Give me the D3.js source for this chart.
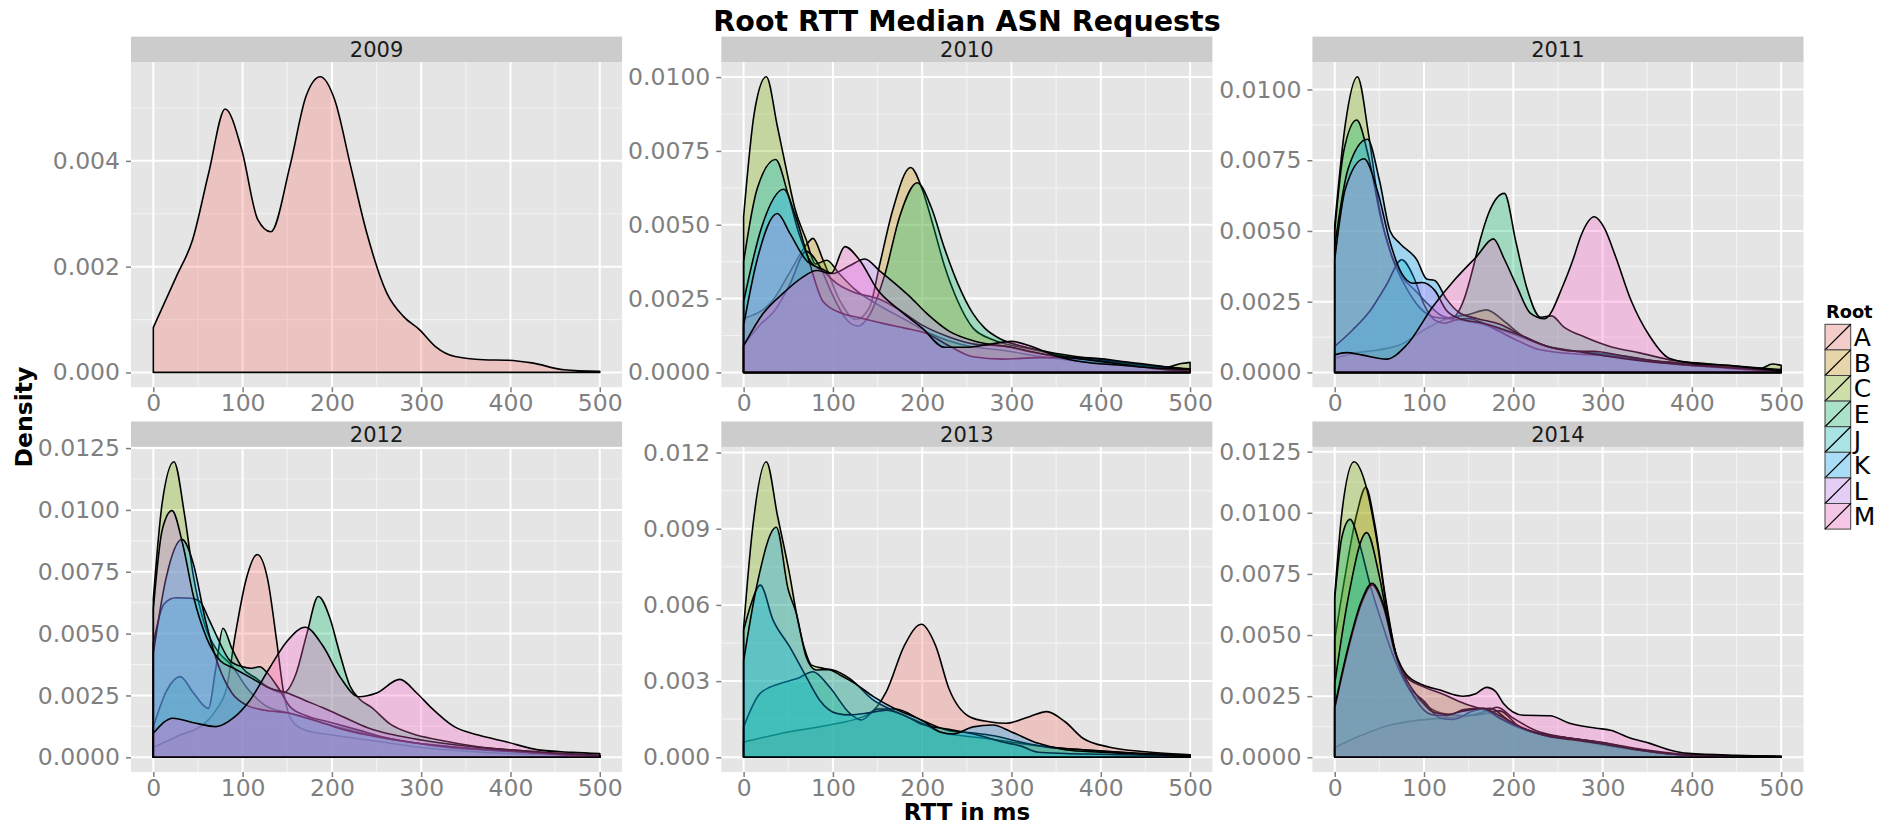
<!DOCTYPE html>
<html>
<head>
<meta charset="utf-8">
<script src="https://cdnjs.cloudflare.com/ajax/libs/d3/7.8.5/d3.min.js"></script>
<style>
  body { margin: 0; background: #fff; }
  svg { display: block; font-family: "DejaVu Sans", sans-serif; }
</style>
</head>
<body>
<div id="chart"></div>
<script>
// density values are in units of 0.001, x is RTT in ms
var unit = 0.001;
var years = ["2009", "2010", "2011", "2012", "2013", "2014"];
var roots = ["A", "B", "C", "E", "J", "K", "L", "M"];
var rootColors = ["#F8766D", "#CD9600", "#7CAE00", "#00BE67", "#00BFC4", "#00A9FF", "#C77CFF", "#FF61CC"];
var xTicks = [0, 100, 200, 300, 400, 500];
var xMinor = [50, 150, 250, 350, 450];

var yTicks09 = [0, 0.002, 0.004];
var yTicks10 = [0, 0.0025, 0.005, 0.0075, 0.01];
var yTicks11 = [0, 0.0025, 0.005, 0.0075, 0.01];
var yTicks12 = [0, 0.0025, 0.005, 0.0075, 0.01, 0.0125];
var yTicks13 = [0, 0.003, 0.006, 0.009, 0.012];
var yTicks14 = [0, 0.0025, 0.005, 0.0075, 0.01, 0.0125];

// 2009
var A09 = [[0,0.85],[26,1.82],[44,2.51],[62,3.77],[80.5,4.98],[99,4.21],[117,2.89],[131.7,2.66],[153,3.9],[171,5.22],[187,5.59],[203,5.16],[221,3.9],[239,2.64],[261.5,1.5],[280,1.06],[298,0.81],[316,0.49],[338,0.3],[370,0.24],[397,0.23],[424,0.18],[460,0.05],[500,0.02]];

// 2010
var B10 = [[0,1.83],[33,2.45],[51,3.35],[72,4.39],[77.6,4.54],[89,3.8],[107.5,2.45],[126,1.79],[141,2.2],[152,3.6],[167,5.5],[187,6.94],[200,6.2],[212,5.0],[225,3.6],[240,2.4],[257,1.5],[280,1.1],[320,0.8],[360,0.55],[400,0.4],[450,0.2],[500,0.1]];
var C10 = [[0,5.27],[12,8.8],[25.4,10.01],[38,8.3],[48,6.85],[57,5.6],[70,4.5],[80.6,3.67],[93,3.8],[107,3.35],[125,2.8],[150,2.3],[180,1.8],[210,1.3],[250,0.9],[290,0.75],[330,0.55],[370,0.4],[420,0.25],[470,0.15],[490,0.3],[500,0.34]];
var E10 = [[0,0.93],[18,1.6],[35,2.1],[52,3.0],[70,4.1],[85,3.6],[100,2.6],[115,1.8],[128,1.57],[142,2.0],[158,3.3],[175,5.3],[194.4,6.42],[210,5.6],[225,4.2],[240,3.0],[256.7,2.0],[270,1.5],[286.5,1.15],[310,0.9],[340,0.7],[380,0.5],[420,0.35],[460,0.2],[500,0.12]];
var J10 = [[0,3.75],[15,6.2],[35.8,7.21],[50,6.0],[62,4.7],[75,3.75],[90,3.4],[105,3.0],[125,2.7],[150,2.5],[170,2.2],[200,1.6],[230,1.2],[260,0.95],[290,0.9],[320,0.7],[360,0.5],[400,0.4],[450,0.25],[500,0.1]];
var K10 = [[0,2.4],[20,4.9],[45,6.2],[58,5.3],[72,3.9],[89,2.4],[110,2.0],[130,1.85],[156,1.66],[180,1.5],[205,1.32],[230,0.9],[257,0.53],[290,0.45],[330,0.5],[380,0.5],[430,0.35],[470,0.2],[500,0.1]];
var L10 = [[0,1.6],[15,3.8],[37.7,5.38],[52,4.7],[70,3.8],[88,3.5],[100,3.35],[118,3.6],[135.8,3.84],[152,3.45],[170,3.0],[185,2.6],[205,2.0],[230,1.4],[260,1.05],[300,0.85],[340,0.6],[380,0.45],[430,0.25],[470,0.1],[500,0.05]];
var M10 = [[0,0.9],[22,2.0],[45,2.7],[65,3.2],[82,3.45],[98,3.35],[113.4,4.26],[130,3.8],[150,2.8],[175,2.1],[200,1.5],[225,0.85],[250,0.85],[275,0.95],[300,1.05],[325,0.85],[350,0.55],[380,0.35],[420,0.25],[460,0.15],[500,0.1]];

// 2011
var B11 = [[0,0.5],[25,0.7],[50,0.8],[75,1.0],[100,1.5],[125,1.9],[150,2.05],[170,2.21],[190,1.8],[210,1.3],[230,1.0],[260,0.8],[290,0.7],[330,0.55],[370,0.35],[410,0.25],[450,0.15],[500,0.05]];
var C11 = [[0,5.2],[12,8.8],[25.4,10.45],[38,8.4],[50,5.8],[62,4.3],[75,3.4],[90,2.9],[105,2.4],[120,2.0],[140,1.85],[165,1.7],[200,1.35],[240,0.9],[280,0.7],[320,0.55],[360,0.4],[400,0.3],[450,0.2],[478,0.15],[490,0.3],[500,0.25]];
var E11 = [[0,5.0],[10,7.8],[24.6,8.92],[38,7.6],[52,5.4],[65,4.0],[80,3.0],[95,2.3],[112,1.95],[130,1.9],[145,2.6],[155,3.7],[163,4.7],[172,5.6],[190,6.33],[203,4.6],[215,3.0],[230.6,1.95],[243,2.0],[256,1.62],[280,1.25],[310,0.9],[340,0.7],[380,0.42],[420,0.3],[460,0.2],[500,0.1]];
var J11 = [[0,0.92],[20,1.5],[40,2.2],[58,3.1],[75,3.98],[88,3.4],[100,2.4],[112,1.85],[123,1.74],[135,1.85],[150,1.9],[175,1.6],[200,1.2],[230,0.8],[270,0.65],[300,0.6],[340,0.45],[380,0.3],[420,0.2],[460,0.1],[500,0.05]];
var K11 = [[0,4.45],[15,7.2],[36.6,8.24],[50,6.8],[62,5.0],[73,4.56],[92,3.98],[103,3.3],[112,3.25],[125,2.6],[140,2.1],[160,1.9],[185,1.7],[210,1.3],[240,0.9],[270,0.75],[290,0.75],[320,0.6],[360,0.4],[400,0.3],[450,0.15],[500,0.05]];
var L11 = [[0,3.98],[12,6.5],[32.8,7.55],[48,6.4],[62,4.6],[75,3.5],[88,3.15],[98,3.18],[112,2.9],[125,2.2],[140,1.9],[165,1.75],[200,1.4],[240,0.9],[280,0.7],[320,0.5],[360,0.35],[400,0.25],[450,0.15],[500,0.05]];
var M11 = [[0,0.62],[13,0.7],[30,0.62],[58,0.47],[80,0.95],[110,2.33],[135,3.3],[159,4.1],[177.6,4.72],[190,4.0],[204,3.04],[219,2.1],[235,1.9],[256,3.1],[267,4.0],[276,4.85],[290.7,5.5],[302,5.1],[314.6,4.09],[331.7,2.56],[353,1.27],[374.5,0.5],[400,0.33],[440,0.25],[470,0.15],[500,0.05]];

// 2012
var A12 = [[0,0.4],[30,0.9],[55,1.3],[70,1.9],[82,2.8],[92,5.0],[104,7.2],[116.4,8.2],[128,7.2],[138,4.74],[146,2.6],[155,1.5],[170,1.1],[200,0.9],[230,0.75],[260,0.6],[300,0.4],[350,0.25],[400,0.15],[450,0.1],[500,0.05]];
var C12 = [[0,6.4],[10,10.3],[23.1,11.95],[35,9.8],[45,7.3],[58,5.3],[72,4.3],[88,3.7],[105,2.8],[125,2.1],[150,1.8],[180,1.5],[210,1.2],[250,0.85],[290,0.6],[330,0.45],[370,0.3],[420,0.2],[460,0.1],[500,0.05]];
var E12 = [[0,1.24],[15,2.7],[30,3.26],[45,2.6],[61.6,1.98],[70,3.6],[78,5.22],[88,4.4],[100,3.6],[115,3.2],[130,2.8],[145,2.6],[160,3.4],[172,5.0],[184.7,6.5],[198,5.6],[208,4.3],[220,2.9],[230,2.39],[245,2.0],[265,1.35],[290,0.95],[320,0.7],[360,0.45],[400,0.3],[450,0.15],[500,0.05]];
var J12 = [[0,4.6],[12,6.2],[25,6.45],[42,6.43],[52,6.3],[62,5.6],[71,4.9],[86,3.9],[100,3.66],[110,3.6],[119,3.66],[128,3.4],[140,2.8],[153,2.05],[170,1.7],[200,1.4],[230,1.1],[260,0.8],[290,0.6],[330,0.4],[370,0.3],[420,0.2],[460,0.1],[500,0.05]];
var K12 = [[0,4.2],[14,7.2],[32,8.81],[45,7.8],[58,5.6],[72,3.8],[88,2.6],[105,2.1],[125,1.9],[150,1.8],[180,1.5],[210,1.15],[240,0.9],[270,0.7],[300,0.55],[340,0.4],[380,0.3],[420,0.2],[460,0.1],[500,0.05]];
var L12 = [[0,6.0],[10,9.2],[20.9,9.97],[33,8.6],[45,6.5],[60,4.8],[75,3.9],[90,3.6],[110,3.2],[130,2.8],[150,2.6],[170,2.3],[190,2.0],[215,1.6],[240,1.2],[270,0.9],[300,0.7],[340,0.5],[380,0.35],[420,0.25],[460,0.15],[500,0.08]];
var M12 = [[0,0.97],[22,1.58],[45,1.4],[70,1.24],[90,1.6],[108,2.3],[130,3.6],[150,4.7],[170,5.26],[190,4.5],[210,3.2],[230,2.45],[250,2.6],[276,3.15],[295,2.6],[310,2.05],[337,1.24],[364,0.9],[395,0.63],[431,0.3],[470,0.2],[500,0.15]];

// 2013
var A13 = [[0,0.6],[50,1.0],[100,1.3],[140,1.7],[160,2.6],[180,4.4],[199,5.24],[215,4.4],[230,2.7],[253,1.6],[275,1.4],[294,1.34],[320,1.6],[339.4,1.8],[360,1.4],[380,0.75],[410,0.4],[450,0.22],[500,0.1]];
var C13 = [[0,5.1],[10,9.0],[25.4,11.64],[38,9.5],[51.5,7.2],[60,5.5],[68,4.3],[76,3.63],[90,3.5],[100,3.44],[119,3.1],[145,2.26],[170,1.8],[200,1.34],[220,1.0],[245,0.85],[270,0.75],[300,0.6],[330,0.45],[360,0.35],[400,0.25],[450,0.15],[500,0.1]];
var E13 = [[0,1.2],[18,2.5],[40,2.9],[60,3.1],[77.6,3.37],[96,2.78],[119,1.73],[131.7,1.47],[150,1.9],[170,1.9],[200,1.45],[230,1.05],[260,0.95],[280,0.85],[310,0.6],[340,0.4],[380,0.3],[420,0.2],[500,0.05]];
var J13 = [[0,5.0],[8,6.0],[18.7,6.78],[33,5.4],[51.5,4.36],[70,3.18],[85,2.26],[104,1.73],[119,1.67],[140,1.75],[160,1.86],[180,1.65],[200,1.3],[230,1.1],[260,0.9],[290,0.6],[310,0.45],[330,0.2],[360,0.15],[400,0.12],[450,0.08],[500,0.05]];
var K13 = [[0,3.8],[15,6.8],[36.6,9.06],[50,6.6],[59,5.67],[70,3.96],[81,3.44],[95,3.45],[110,3.2],[125,2.9],[145,2.4],[170,1.9],[200,1.45],[220,1.0],[235,0.92],[257,1.2],[279,1.27],[300,1.0],[330,0.55],[360,0.3],[400,0.2],[450,0.12],[500,0.05]];

// 2014
var A14 = [[0,0.4],[30,0.9],[60,1.3],[90,1.5],[120,1.6],[150,1.7],[170,1.9],[182,2.05],[200,1.6],[225,1.1],[260,0.8],[300,0.5],[350,0.25],[400,0.08],[500,0.02]];
var B14 = [[0,4.8],[12,7.5],[25,10.0],[34.7,11.04],[45,9.5],[57,6.5],[68,4.3],[80,3.0],[100,2.2],[120,1.8],[145,1.7],[170,1.8],[185,1.9],[205,1.3],[240,0.9],[280,0.7],[320,0.45],[360,0.2],[400,0.08],[500,0.02]];
var C14 = [[0,6.6],[8,10.0],[21.6,12.09],[35,11.1],[47,8.9],[58,6.16],[69,4.1],[80,3.3],[99,2.89],[120,2.6],[145,2.2],[170,1.9],[200,1.3],[230,0.95],[260,0.8],[300,0.6],[340,0.35],[400,0.1],[450,0.05],[500,0.02]];
var E14 = [[0,6.5],[8,9.0],[17.2,9.73],[28,8.7],[40,7.0],[52,5.6],[65,4.2],[80,3.0],[100,2.3],[118,1.6],[133,1.55],[155,1.9],[174,2.0],[195,1.5],[215,1.1],[240,0.9],[270,0.75],[300,0.55],[340,0.3],[400,0.08],[500,0.02]];
var J14 = [[0,3.0],[15,6.5],[35.8,9.19],[50,7.4],[60,5.5],[72,3.8],[90,2.4],[108,1.75],[125,1.7],[145,1.95],[165,2.0],[185,1.6],[210,1.2],[240,0.85],[270,0.75],[300,0.6],[340,0.3],[400,0.08],[500,0.02]];
var K14 = [[0,2.0],[15,4.4],[30,6.3],[41.8,7.05],[55,6.1],[68,4.2],[80,3.2],[95,2.4],[110,1.85],[125,1.75],[145,1.9],[165,2.0],[185,1.7],[210,1.2],[240,0.85],[270,0.7],[300,0.55],[340,0.3],[400,0.08],[500,0.02]];
var M14 = [[0,2.07],[15,4.5],[30,6.4],[41.8,7.12],[55,6.2],[68,4.3],[80,3.4],[99,2.96],[118,2.75],[144,2.5],[158,2.6],[170,2.86],[180,2.7],[189,2.2],[211,1.72],[241,1.7],[263,1.39],[293,1.19],[310,1.1],[330,0.8],[353,0.57],[375,0.3],[396,0.16],[450,0.08],[500,0.05]];

// which roots appear in each year, in drawing order
var panels = [
  {year: "2009", ticks: yTicks09, fmt: ".3f", series: [["A", A09]]},
  {year: "2010", ticks: yTicks10, fmt: ".4f", series: [["B", B10], ["C", C10], ["E", E10], ["J", J10], ["K", K10], ["L", L10], ["M", M10]]},
  {year: "2011", ticks: yTicks11, fmt: ".4f", series: [["B", B11], ["C", C11], ["E", E11], ["J", J11], ["K", K11], ["L", L11], ["M", M11]]},
  {year: "2012", ticks: yTicks12, fmt: ".4f", series: [["A", A12], ["C", C12], ["E", E12], ["J", J12], ["K", K12], ["L", L12], ["M", M12]]},
  {year: "2013", ticks: yTicks13, fmt: ".3f", series: [["A", A13], ["C", C13], ["E", E13], ["J", J13], ["K", K13]]},
  {year: "2014", ticks: yTicks14, fmt: ".4f", series: [["A", A14], ["B", B14], ["C", C14], ["E", E14], ["J", J14], ["K", K14], ["M", M14]]}
];

var W = 1892, H = 825;
var colLeft = [131, 721.3, 1312.4], rowTop = [62, 446.9];
var pw = 491.1, ph = 325.2, stripH = 25.4;
var tickCol = "#7F7F7F", tickFont = 23.5;

var color = d3.scaleOrdinal().domain(roots).range(rootColors);

var svg = d3.select("#chart").append("svg")
    .attr("width", W)
    .attr("height", H);

svg.append("rect").attr("width", W).attr("height", H).attr("fill", "#fff");

panels.forEach(function(p, i) {
    var left = colLeft[i % 3], top = rowTop[Math.floor(i / 3)];
    var g = svg.append("g").attr("transform", "translate(" + left + "," + top + ")");

    var maxY = d3.max(p.series, function(s) { return d3.max(s[1], function(d) { return d[1]; }); }) * unit;
    var x = d3.scaleLinear().domain([-25, 525]).range([0, pw]);
    var y = d3.scaleLinear().domain([-0.05 * maxY, 1.05 * maxY]).range([ph, 0]);

    // strip
    g.append("rect").attr("x", 0).attr("y", -stripH).attr("width", pw).attr("height", stripH).attr("fill", "#CCCCCC");
    g.append("text").attr("x", pw / 2).attr("y", -stripH / 2).attr("dy", "0.36em")
        .attr("text-anchor", "middle").style("font-size", "21px").attr("fill", "#1A1A1A").text(p.year);

    // panel background + grid
    g.append("rect").attr("width", pw).attr("height", ph).attr("fill", "#E5E5E5");
    var step = p.ticks[1] - p.ticks[0];
    var yMinor = [];
    p.ticks.forEach(function(t) {
        var m = t + step / 2;
        if (m < y.domain()[1]) yMinor.push(m);
    });
    g.selectAll(".xminor").data(xMinor).enter().append("line")
        .attr("x1", function(d) { return x(d); }).attr("x2", function(d) { return x(d); })
        .attr("y1", 0).attr("y2", ph).attr("stroke", "#F2F2F2").attr("stroke-width", 1.2);
    g.selectAll(".yminor").data(yMinor).enter().append("line")
        .attr("y1", function(d) { return y(d); }).attr("y2", function(d) { return y(d); })
        .attr("x1", 0).attr("x2", pw).attr("stroke", "#F2F2F2").attr("stroke-width", 1.2);
    g.selectAll(".xmajor").data(xTicks).enter().append("line")
        .attr("x1", function(d) { return x(d); }).attr("x2", function(d) { return x(d); })
        .attr("y1", 0).attr("y2", ph).attr("stroke", "#fff").attr("stroke-width", 2);
    g.selectAll(".ymajor").data(p.ticks).enter().append("line")
        .attr("y1", function(d) { return y(d); }).attr("y2", function(d) { return y(d); })
        .attr("x1", 0).attr("x2", pw).attr("stroke", "#fff").attr("stroke-width", 2);

    // densities, drawn in root order so later fills tint earlier outlines
    var area = d3.area()
        .x(function(d) { return x(d[0]); })
        .y0(y(0))
        .y1(function(d) { return y(d[1] * unit); })
        .curve(d3.curveMonotoneX);
    p.series.forEach(function(s) {
        g.append("path").datum(s[1])
            .attr("d", area)
            .attr("fill", color(s[0]))
            .attr("fill-opacity", 0.3)
            .attr("stroke", "#000")
            .attr("stroke-width", 1.6)
            .attr("stroke-linejoin", "round");
    });

    // axes
    var xa = g.append("g").attr("transform", "translate(0," + ph + ")")
        .call(d3.axisBottom(x).tickValues(xTicks).tickSize(5).tickPadding(2).tickFormat(d3.format("d")));
    var ya = g.append("g")
        .call(d3.axisLeft(y).tickValues(p.ticks).tickSize(5).tickPadding(6).tickFormat(d3.format(p.fmt)));
    [xa, ya].forEach(function(a) {
        a.select(".domain").remove();
        a.selectAll("line").attr("stroke", tickCol).attr("stroke-width", 1.5);
        a.selectAll("text").attr("fill", tickCol).style("font-size", tickFont + "px")
            .style("font-family", "DejaVu Sans");
    });
});

// titles
svg.append("text").attr("x", 967).attr("y", 31).attr("text-anchor", "middle")
    .style("font-size", "28.5px").style("font-weight", "bold").text("Root RTT Median ASN Requests");
svg.append("text").attr("x", 967).attr("y", 820).attr("text-anchor", "middle")
    .style("font-size", "23px").style("font-weight", "bold").text("RTT in ms");
svg.append("text").attr("transform", "translate(32,417) rotate(-90)").attr("text-anchor", "middle")
    .style("font-size", "23.5px").style("font-weight", "bold").text("Density");

// legend
var lg = svg.append("g").attr("transform", "translate(1825,324.3)");
lg.append("text").attr("x", 1).attr("y", -6).style("font-size", "17.8px").style("font-weight", "bold").text("Root");
var keyW = 25.7, keyH = 25.6;
roots.forEach(function(r, i) {
    var k = lg.append("g").attr("transform", "translate(0," + (i * keyH) + ")");
    k.append("rect").attr("width", keyW).attr("height", keyH).attr("fill", "#F2F2F2");
    k.append("rect").attr("width", keyW).attr("height", keyH)
        .attr("fill", color(r)).attr("fill-opacity", 0.3)
        .attr("stroke", "#444").attr("stroke-width", 1);
    k.append("line").attr("x1", 0).attr("y1", keyH).attr("x2", keyW).attr("y2", 0)
        .attr("stroke", "#000").attr("stroke-width", 1.2);
    k.append("text").attr("x", keyW + 3).attr("y", keyH / 2).attr("dy", "0.36em")
        .style("font-size", "25px").text(r);
});
</script>
</body>
</html>
